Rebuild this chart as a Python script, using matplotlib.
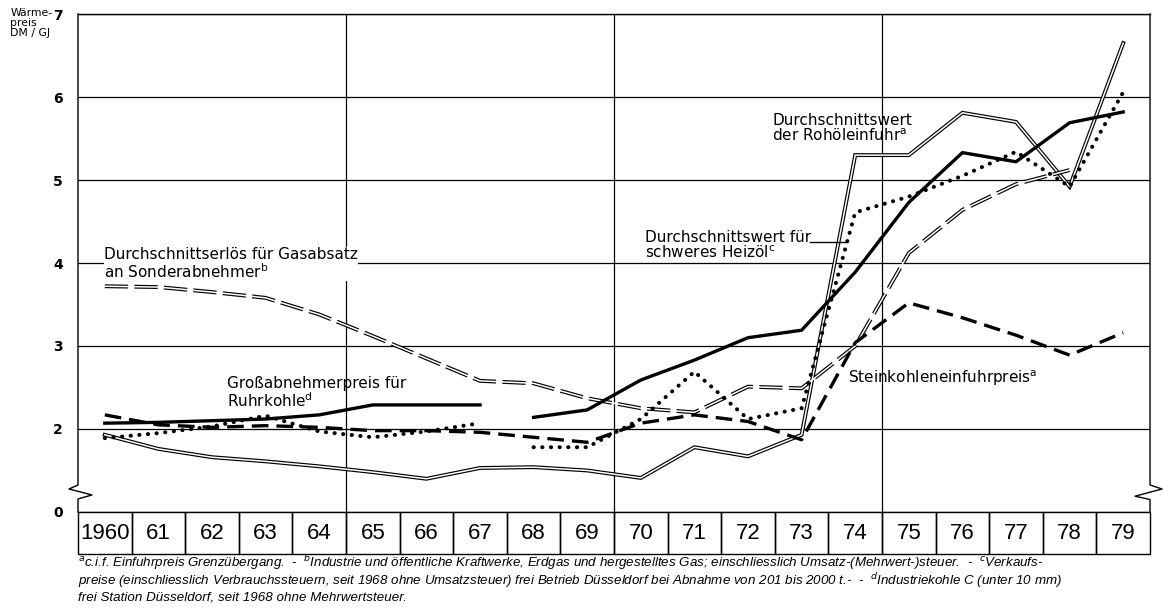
import numpy as np
import matplotlib.pyplot as plt
from matplotlib.patches import Rectangle

plt.rcParams['font.family'] = ['DejaVu Sans']

years = ['1960', '61', '62', '63', '64', '65', '66', '67', '68', '69',
         '70', '71', '72', '73', '74', '75', '76', '77', '78', '79']
x = np.arange(len(years))

# Waermepreis in DM/GJ
rohoel = [1.93, 1.76, 1.66, 1.61, 1.55, 1.48, 1.40, 1.53, 1.54, 1.50,
          1.41, 1.78, 1.67, 1.93, 5.30, 5.30, 5.81, 5.70, 4.92, 6.65]
gas = [3.72, 3.71, 3.65, 3.58, 3.38, 3.12, 2.85, 2.58, 2.55, 2.37,
       2.25, 2.20, 2.51, 2.49, 3.00, 4.12, 4.64, 4.95, 5.12, np.nan]
heizoel = [1.89, 1.95, 2.03, 2.16, 1.97, 1.90, 1.97, 2.07, 1.78, 1.78,
           2.12, 2.69, 2.12, 2.25, 4.61, 4.80, 5.05, 5.34, 4.92, 6.06]
ruhrkohle = [2.07, 2.08, 2.10, 2.12, 2.17, 2.29, 2.29, 2.29, 2.14, 2.23,
             2.59, 2.83, 3.10, 3.19, 3.89, 4.73, 5.33, 5.22, 5.69, 5.82]
steinkohle = [2.17, 2.05, 2.02, 2.04, 2.02, 1.98, 1.98, 1.96, 1.90, 1.84,
              2.07, 2.17, 2.09, 1.87, 3.04, 3.52, 3.34, 3.13, 2.89, 3.16]
brk = 8  # Heizoel und Ruhrkohle: Bruch zwischen 1967 und 1968

fig = plt.figure(figsize=(11.64, 6.10), dpi=100)
ax = fig.add_axes([0.067, 0.1607, 0.921, 0.8163])
ax.set_xlim(-0.5, 19.5)
ax.set_ylim(1, 7)

ax.set_yticks([1, 2, 3, 4, 5, 6, 7])
ax.set_yticklabels(['0', '2', '3', '4', '5', '6', '7'], fontsize=10, fontweight='bold')
ax.set_xticks([4.5, 9.5, 14.5])
ax.set_xticklabels([])
ax.tick_params(length=0, pad=11)
ax.grid(True, color='black', lw=0.9)
ax.set_axisbelow(True)
for s in ['left', 'right', 'bottom']:
    ax.spines[s].set_visible(False)
ax.spines['top'].set_linewidth(1.0)

# Achsen mit Bruchzeichen
px = 1 / 53.6
ax.plot([-0.5, -0.5, -0.5 - 9 * px, -0.5 + 14 * px, -0.5, -0.5],
        [7, 1.325, 1.277, 1.205, 1.157, 1.0], color='black', lw=1.0, clip_on=False)
ax.plot([19.5, 19.5, 19.5 + 12 * px, 19.5 - 15 * px, 19.5, 19.5],
        [7, 1.325, 1.277, 1.19, 1.15, 1.0], color='black', lw=1.0, clip_on=False)

# Durchschnittswert der Rohoeleinfuhr (Doppellinie)
ax.plot(x, rohoel, color='black', lw=2.8, solid_joinstyle='miter')
ax.plot(x, rohoel, color='white', lw=1.1, solid_joinstyle='miter')

# Gasabsatz (gestrichelte Doppellinie)
ax.plot(x, gas, color='black', lw=2.8, dashes=(6, 1.6))
ax.plot(x, gas, color='white', lw=1.1)

# Steinkohleneinfuhrpreis
ax.plot(x, steinkohle, color='black', lw=2.4, dashes=(5, 2.4))

# Ruhrkohle
ax.plot(x[:brk], ruhrkohle[:brk], color='black', lw=2.4)
ax.plot(x[brk:], ruhrkohle[brk:], color='black', lw=2.4)

# schweres Heizoel (gepunktet)
dots = dict(color='black', lw=2.9, linestyle=(0, (0.05, 2.1)), dash_capstyle='round')
ax.plot(x[:brk], heizoel[:brk], **dots)
ax.plot(x[brk:], heizoel[brk:], **dots)

# Beschriftungen
lab = dict(fontsize=11, color='black', linespacing=1.0)
ax.text(-0.02, 3.99, 'Durchschnittserlös für Gasabsatz\nan Sonderabnehmer$^{\\mathrm{b}}$',
        va='center', ha='left', bbox=dict(fc='white', ec='none', pad=0.0), **lab)
ax.text(2.28, 2.43, 'Großabnehmerpreis für\nRuhrkohle$^{\\mathrm{d}}$',
        va='center', ha='left', **lab)
ax.text(12.45, 5.62, 'Durchschnittswert\nder Rohöleinfuhr$^{\\mathrm{a}}$',
        va='center', ha='left', **lab)
ax.text(13.87, 2.61, 'Steinkohleneinfuhrpreis$^{\\mathrm{a}}$',
        va='center', ha='left', **lab)
ax.text(10.08, 4.21, 'Durchschnittswert für\nschweres Heizöl$^{\\mathrm{c}}$',
        va='center', ha='left', **lab)
xl = 13.85
ax.plot([13.15, xl], [np.interp(xl, x, heizoel)] * 2, color='black', lw=1.0)

# Jahreskaesten unter der Achse
tr = ax.get_xaxis_transform()
for i, yr in enumerate(years):
    ax.add_patch(Rectangle((i - 0.5, -0.085), 1, 0.085, transform=tr, fill=False,
                           ec='black', lw=1.0, clip_on=False))
    ax.text(i, -0.043, yr, transform=tr, ha='center', va='center',
            fontsize=16, family=['Liberation Sans', 'DejaVu Sans'])

fig.text(0.009, 0.987, 'Wärme-\npreis\nDM / GJ', ha='left', va='top',
         fontsize=7.8, linespacing=1.0)

foot = dict(fontsize=9.6, style='italic', ha='left', va='center',
            family=['Liberation Sans', 'DejaVu Sans'])
fig.text(0.067, 0.077, '$^{a}$c.i.f. Einfuhrpreis Grenzübergang.  -  $^{b}$Industrie und öffentliche '
         'Kraftwerke, Erdgas und hergestelltes Gas; einschliesslich Umsatz-(Mehrwert-)steuer.  -  '
         '$^{c}$Verkaufs-', **foot)
fig.text(0.067, 0.049, 'preise (einschliesslich Verbrauchssteuern, seit 1968 ohne Umsatzsteuer) '
         'frei Betrieb Düsseldorf bei Abnahme von 201 bis 2000 t.-  -  $^{d}$Industriekohle C '
         '(unter 10 mm)', **foot)
fig.text(0.067, 0.021, 'frei Station Düsseldorf, seit 1968 ohne Mehrwertsteuer.', **foot)

fig.savefig('out.png', dpi=100)
